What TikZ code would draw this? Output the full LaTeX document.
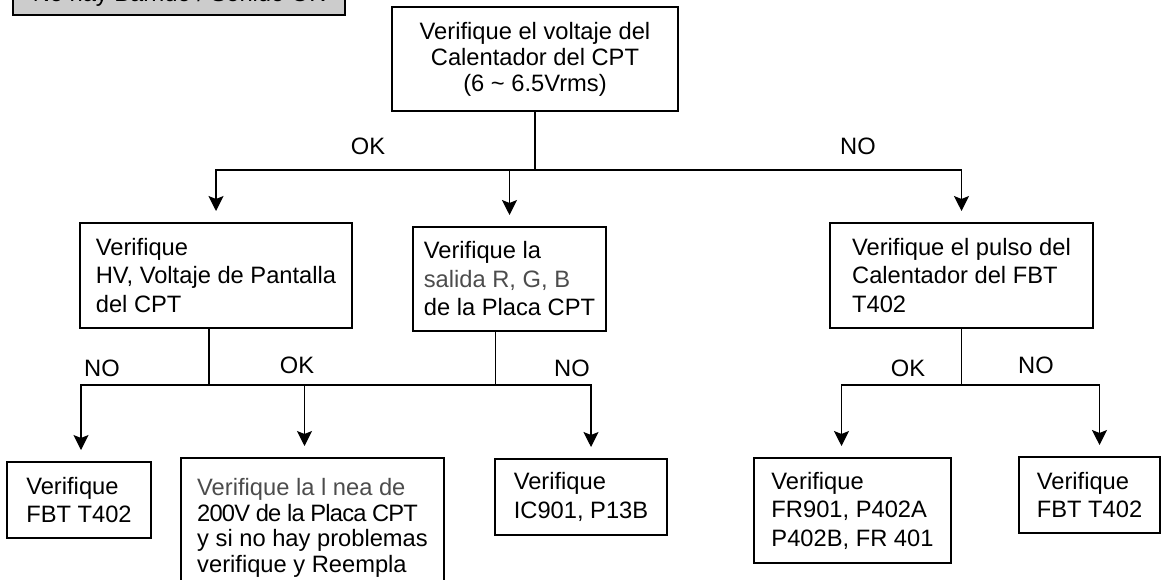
\documentclass[tikz,border=0pt]{standalone}
\usepackage{fontspec}
\setmainfont{Liberation Sans}
\usetikzlibrary{arrows.meta}
\colorlet{titlegray}{black!20}
\colorlet{faded}{black!70}
\newcommand{\tight}{\addfontfeature{LetterSpace=-3.5}}

\begin{document}
\begin{tikzpicture}[
	x=1pt,y=-1pt,
	every node/.style={font=\fontsize{23.7}{28.5}\selectfont},
	box/.style={draw,line width=1.3pt,inner sep=0pt,outer sep=0pt,align=left},
	header/.style={box,fill=titlegray,line width=2.5pt,%
		minimum width=332pt,minimum height=40pt},
	wire/.style={line width=1.3pt},
	arr/.style={wire,-{Stealth[length=15pt,width=15pt,inset=3pt]},shorten >=12pt},
	lbl/.style={inner sep=0pt}
	]
	\useasboundingbox (0,0) rectangle (1161,580);
	\clip (0,0) rectangle (1161,580);

	% title, cut by the page
	\node[header] (title) at (179,-5) {No hay Barrido / Sonido OK};

	% first question
	\node[box,align=center,font=\fontsize{23.7}{26}\selectfont,%
		minimum width=286pt,minimum height=104pt] (heater) at (535,59)
		{Verifique el voltaje del\\Calentador del CPT\\(6 \textasciitilde{} 6.5Vrms)};

	% second row
	\node[box,minimum width=272pt,minimum height=105pt] (hv) at (216,275.5)
		{Verifique\\HV, Voltaje de Pantalla\\del CPT};
	\node[box,minimum width=193pt,minimum height=104pt] (rgb) at (509.5,279)
		{Verifique la\\{\color{faded}salida R, G, B}\\de la Placa CPT};
	\node[box,minimum width=263pt,minimum height=105pt] (pulse) at (961.5,275.5)
		{Verifique el pulso del\\Calentador del FBT\\T402};

	% third row
	\node[box,minimum width=144pt,minimum height=76pt] (fbtA) at (79,500)
		{Verifique\\FBT T402};
	\node[box,font=\fontsize{23.7}{25.5}\selectfont,%
		minimum width=263pt,minimum height=140pt] (line) at (312.5,528)
		{{\color{faded}Verifique la l nea de}\\\tight 200V de la Placa CPT\\%
		y si no hay problemas\\verifique y Reempla};
	\node[box,minimum width=172pt,minimum height=76pt] (ic) at (581,497)
		{Verifique\\IC901, P13B};
	\node[box,minimum width=197pt,minimum height=105pt] (fr) at (852.5,510.5)
		{Verifique\\FR901, P402A\\P402B, FR 401};
	\node[box,minimum width=141pt,minimum height=76pt] (fbtB) at (1089.5,495)
		{Verifique\\FBT T402};

	% branch points
	\coordinate (j1) at (heater.south |- 0,170);
	\coordinate (j2) at ([xshift=-7pt]hv.south |- 0,385);
	\coordinate (j3) at ([xshift=-14pt]rgb.south |- 0,385);
	\coordinate (j4) at (pulse.south |- 0,385);

	\draw[wire] (heater) -- (j1);
	\draw[arr] (j1) -| (hv);
	\draw[arr] (j1) -| (rgb);
	\draw[arr] (j1) -| (pulse);

	\draw[wire] ([xshift=-7pt]hv.south) -- (j2);
	\draw[wire] ([xshift=-14pt]rgb.south) -- (j3);
	\draw[wire] (j2) -- (j3);
	\draw[arr] (j2) -| ([xshift=2pt]fbtA.north);
	\draw[arr] (j2) -| ([xshift=-8pt]line.north);
	\draw[arr] (j3) -| ([xshift=10pt]ic.north);

	\draw[wire] (pulse) -- (j4);
	\draw[arr] (j4) -| ([xshift=-11pt]fr.north);
	\draw[arr] (j4) -| ([xshift=10pt]fbtB.north);

	% answers
	\node[lbl] (ok1) at (368,146) {OK};
	\node[lbl] (no1) at (858,146) {NO};
	\node[lbl] (no2) at (102,368) {NO};
	\node[lbl] (ok2) at (297,365) {OK};
	\node[lbl] (no3) at (572,368) {NO};
	\node[lbl] (ok3) at (908,368) {OK};
	\node[lbl] (no4) at (1036,365) {NO};
\end{tikzpicture}
\end{document}
